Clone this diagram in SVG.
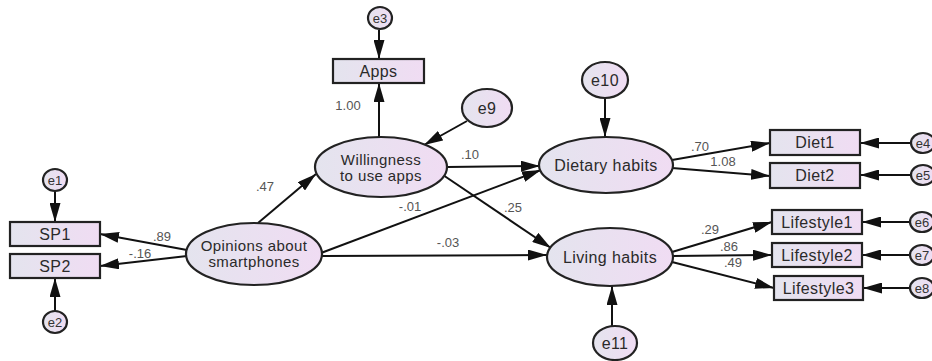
<svg xmlns="http://www.w3.org/2000/svg" width="932" height="361" viewBox="0 0 932 361">
<defs>
<linearGradient id="g" x1="0" y1="0" x2="1" y2="0">
<stop offset="0" stop-color="#e4e4ee"/>
<stop offset="1" stop-color="#f0dcf3"/>
</linearGradient>
<marker id="arr" markerWidth="19" markerHeight="11" refX="19" refY="5.5" orient="auto" markerUnits="userSpaceOnUse">
<path d="M0,0 L19,5.5 L0,11 z" fill="#111"/>
</marker>
</defs>
<style>
.n{fill:url(#g);stroke:#222;stroke-width:2.2}
.t{font-family:"Liberation Sans",Arial,sans-serif;font-size:16px;fill:#2a2a2a;text-anchor:middle;letter-spacing:0.4px}
.t2{font-family:"Liberation Sans",Arial,sans-serif;font-size:15px;fill:#2a2a2a;text-anchor:middle;letter-spacing:0.4px}
.s{font-family:"Liberation Sans",Arial,sans-serif;font-size:13px;fill:#333;text-anchor:middle}
.l{font-family:"Liberation Sans",Arial,sans-serif;font-size:13px;fill:#555;text-anchor:middle}
.c{fill:none;stroke:#111;stroke-width:2;marker-end:url(#arr)}
</style>
<rect width="932" height="361" fill="#fff"/>
<g id="connectors">
<line class="c" x1="55" y1="191" x2="55" y2="222"/>
<line class="c" x1="55" y1="311" x2="55" y2="278"/>
<line class="c" x1="187" y1="250" x2="100" y2="234"/>
<line class="c" x1="187" y1="256" x2="100" y2="266"/>
<line class="c" x1="258" y1="223" x2="316" y2="174"/>
<line class="c" x1="379" y1="30" x2="379" y2="59"/>
<line class="c" x1="379" y1="137" x2="379" y2="83"/>
<line class="c" x1="467" y1="121" x2="424" y2="145"/>
<line class="c" x1="447" y1="167" x2="540" y2="166"/>
<line class="c" x1="443" y1="175" x2="551" y2="248"/>
<line class="c" x1="321" y1="253" x2="541" y2="170"/>
<line class="c" x1="322" y1="256" x2="547" y2="255"/>
<line class="c" x1="605" y1="98" x2="605" y2="137"/>
<line class="c" x1="612" y1="326" x2="612" y2="286"/>
<line class="c" x1="672" y1="160" x2="770" y2="143"/>
<line class="c" x1="672" y1="168" x2="770" y2="176"/>
<line class="c" x1="911" y1="143" x2="860" y2="143"/>
<line class="c" x1="911" y1="175" x2="860" y2="175"/>
<line class="c" x1="672" y1="252" x2="772" y2="222"/>
<line class="c" x1="673" y1="256" x2="772" y2="255"/>
<line class="c" x1="672" y1="262" x2="774" y2="288"/>
<line class="c" x1="910" y1="222" x2="862" y2="222"/>
<line class="c" x1="910" y1="255" x2="862" y2="255"/>
<line class="c" x1="910" y1="288" x2="863" y2="288"/>
<text class="l" x="162" y="241">.89</text>
<text class="l" x="140" y="258">-.16</text>
<text class="l" x="265" y="191">.47</text>
<text class="l" x="348" y="110">1.00</text>
<text class="l" x="470" y="159">.10</text>
<text class="l" x="410" y="211">-.01</text>
<text class="l" x="513" y="212">.25</text>
<text class="l" x="448" y="247">-.03</text>
<text class="l" x="700" y="151">.70</text>
<text class="l" x="723" y="166">1.08</text>
<text class="l" x="710" y="234">.29</text>
<text class="l" x="729" y="251">.86</text>
<text class="l" x="733" y="267">.49</text>
</g>
<g id="e1"><ellipse class="n" cx="55" cy="180" rx="12" ry="11"/><text class="s" x="55" y="185">e1</text></g>
<g id="e2"><ellipse class="n" cx="55" cy="322" rx="12" ry="11"/><text class="s" x="55" y="327">e2</text></g>
<g id="SP1"><rect class="n" x="10" y="222" width="90" height="24"/><text class="t" x="55" y="240">SP1</text></g>
<g id="SP2"><rect class="n" x="10" y="254" width="90" height="24"/><text class="t" x="55" y="272">SP2</text></g>
<g id="opinions"><ellipse class="n" cx="254" cy="254" rx="68" ry="31"/><text class="t2" x="254" y="251">Opinions about</text><text class="t2" x="254" y="267">smartphones</text></g>
<g id="willingness"><ellipse class="n" cx="381" cy="167" rx="66" ry="30"/><text class="t2" x="381" y="165">Willingness</text><text class="t2" x="381" y="181">to use apps</text></g>
<g id="apps"><rect class="n" x="333" y="59" width="91" height="24"/><text class="t" x="378.5" y="77">Apps</text></g>
<g id="e3"><ellipse class="n" cx="380" cy="18" rx="12" ry="11"/><text class="s" x="380" y="23">e3</text></g>
<g id="e9"><ellipse class="n" cx="487" cy="108" rx="25" ry="19"/><text class="t" x="487" y="114">e9</text></g>
<g id="dietary"><ellipse class="n" cx="606" cy="165" rx="67" ry="28"/><text class="t" x="606" y="171">Dietary habits</text></g>
<g id="e10"><ellipse class="n" cx="605" cy="80" rx="23" ry="18"/><text class="t" x="605" y="86">e10</text></g>
<g id="living"><ellipse class="n" cx="610" cy="257" rx="63" ry="29"/><text class="t" x="610" y="263">Living habits</text></g>
<g id="e11"><ellipse class="n" cx="615" cy="343" rx="22" ry="17"/><text class="t" x="615" y="349">e11</text></g>
<g id="diet1"><rect class="n" x="770" y="130" width="90" height="25"/><text class="t" x="815" y="148">Diet1</text></g>
<g id="diet2"><rect class="n" x="770" y="163" width="90" height="25"/><text class="t" x="815" y="181">Diet2</text></g>
<g id="lifestyle1"><rect class="n" x="772" y="210" width="90" height="24"/><text class="t" x="817" y="228">Lifestyle1</text></g>
<g id="lifestyle2"><rect class="n" x="772" y="243" width="90" height="24"/><text class="t" x="817" y="261">Lifestyle2</text></g>
<g id="lifestyle3"><rect class="n" x="774" y="276" width="89" height="24"/><text class="t" x="818.5" y="294">Lifestyle3</text></g>
<g id="e4"><ellipse class="n" cx="923" cy="143" rx="12" ry="10"/><text class="s" x="923" y="148">e4</text></g>
<g id="e5"><ellipse class="n" cx="923" cy="175" rx="12" ry="10"/><text class="s" x="923" y="180">e5</text></g>
<g id="e6"><ellipse class="n" cx="922" cy="222" rx="12" ry="10"/><text class="s" x="922" y="227">e6</text></g>
<g id="e7"><ellipse class="n" cx="922" cy="255" rx="12" ry="10"/><text class="s" x="922" y="260">e7</text></g>
<g id="e8"><ellipse class="n" cx="922" cy="288" rx="12" ry="10"/><text class="s" x="922" y="293">e8</text></g>
</svg>
